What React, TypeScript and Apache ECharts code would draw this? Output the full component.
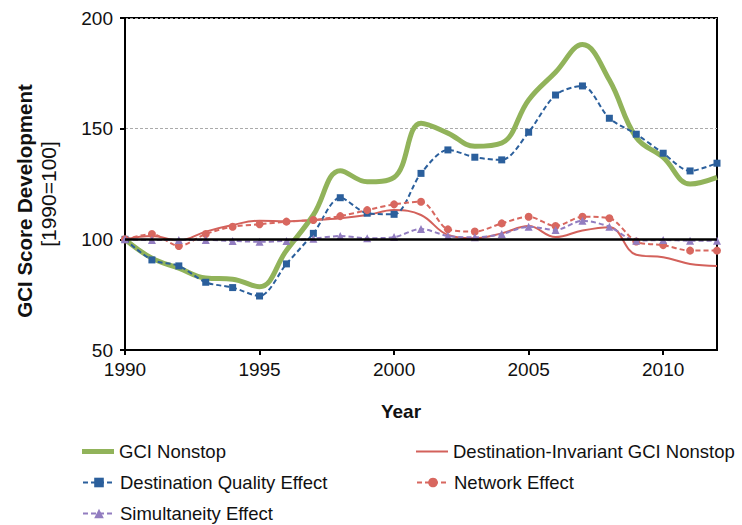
import { useEffect, useRef } from "react";
import * as echarts from "echarts";

// Years on the horizontal axis
const years = [
  1990, 1991, 1992, 1993, 1994, 1995, 1996, 1997, 1998, 1999, 2000, 2001,
  2002, 2003, 2004, 2005, 2006, 2007, 2008, 2009, 2010, 2011, 2012,
];

// Index values, 1990 = 100
const gciNonstop = [
  100, 91.5, 87, 82.5, 82, 78.6, 95, 111, 131, 126, 128, 152.5, 148, 142,
  143.5, 163, 175.5, 188, 172, 146, 137, 125, 128,
];
const destinationInvariant = [
  100, 101.5, 99.5, 103.5, 106.5, 108.4, 108.2, 108.7, 109.5, 111, 113.2, 111,
  102, 100.5, 102.7, 106, 101, 104, 105.5, 93, 91.9, 88.9, 88,
];
const destinationQuality = [
  100, 90.7, 88, 80.6, 78.2, 74.4, 88.9, 102.7, 118.8, 111.8, 111.3, 129.8,
  140.4, 137.1, 135.9, 148.4, 165.2, 169.3, 154.7, 147.5, 138.9, 130.9, 134.4,
];
const networkEffect = [
  100, 102.4, 97, 102.4, 105.7, 106.8, 108, 108.7, 110.5, 113.2, 115.8, 117,
  104.5, 103.5, 107.2, 110.2, 106, 110.2, 109.5, 99, 97.4, 94.9, 94.9,
];
const simultaneityEffect = [
  100, 99.7, 99.7, 99.7, 99.3, 98.9, 99.3, 100.3, 101.5, 100.5, 101, 104.7,
  101.5, 100.9, 102.4, 105.7, 104.2, 108.4, 105.7, 99.4, 99.7, 99.4, 99.4,
];

const xTicks = [1990, 1995, 2000, 2005, 2010];
const baseline = 100;

const pairs = (vals: number[]) => years.map((y, i) => [y, vals[i]]);

const FONT = "Liberation Sans, Arial, Helvetica, sans-serif";

export default function App() {
  const ref = useRef<HTMLDivElement>(null);

  useEffect(() => {
    if (!ref.current) return;
    const chart = echarts.init(ref.current, null, { renderer: "svg" });

    const legendBase = {
      orient: "horizontal" as const,
      itemWidth: 32,
      itemHeight: 12,
      itemGap: 0,
      padding: 0,
      selectedMode: false,
      textStyle: { fontFamily: FONT, fontSize: 18.5, color: "#111" },
    };

    chart.setOption({
      animation: false,
      backgroundColor: "#fff",
      grid: {
        left: 125,
        right: 25,
        top: 18,
        bottom: 175,
        show: true,
        borderColor: "#000",
        borderWidth: 2,
      },
      xAxis: {
        type: "value",
        min: 1990,
        max: 2012,
        interval: 5,
        axisLine: { show: true, lineStyle: { color: "#000", width: 2 } },
        axisTick: {
          show: true,
          length: 5,
          lineStyle: { color: "#000", width: 2 },
          customValues: xTicks,
        },
        axisLabel: {
          customValues: xTicks,
          formatter: (v: number) => String(v),
          fontFamily: FONT,
          fontSize: 19,
          color: "#111",
          margin: 10,
        },
        splitLine: { show: false },
      },
      yAxis: {
        type: "value",
        min: 50,
        max: 200,
        interval: 50,
        axisLine: { show: true, lineStyle: { color: "#000", width: 2 } },
        axisTick: { show: true, length: 5, lineStyle: { color: "#000", width: 2 } },
        axisLabel: {
          fontFamily: FONT,
          fontSize: 19,
          color: "#111",
          margin: 12,
        },
        splitLine: {
          show: true,
          lineStyle: { color: "#aaa", width: 1, type: [3, 2] },
        },
      },
      legend: [
        {
          ...legendBase,
          left: 82,
          top: 442,
          itemHeight: 5,
          data: [{ name: "GCI Nonstop", icon: "rect" }],
        },
        { ...legendBase, left: 82, top: 473, data: ["Destination Quality Effect"] },
        { ...legendBase, left: 82, top: 504, data: ["Simultaneity Effect"] },
        {
          ...legendBase,
          left: 416,
          top: 442,
          itemHeight: 2,
          data: [{ name: "Destination-Invariant GCI Nonstop", icon: "rect" }],
        },
        { ...legendBase, left: 416, top: 473, data: ["Network Effect"] },
      ],
      graphic: [
        {
          type: "text",
          x: 24,
          y: 201,
          rotation: Math.PI / 2,
          style: {
            text: "GCI Score Development",
            fontFamily: FONT,
            fontSize: 20.5,
            fontWeight: "bold",
            fill: "#111",
            align: "center",
            verticalAlign: "middle",
          },
        },
        {
          type: "text",
          x: 48,
          y: 194,
          rotation: Math.PI / 2,
          style: {
            text: "[1990=100]",
            fontFamily: FONT,
            fontSize: 21,
            fill: "#111",
            align: "center",
            verticalAlign: "middle",
          },
        },
        {
          type: "text",
          x: 401,
          y: 411,
          style: {
            text: "Year",
            fontFamily: FONT,
            fontSize: 19,
            fontWeight: "bold",
            fill: "#111",
            align: "center",
            verticalAlign: "middle",
          },
        },
      ],
      series: [
        {
          name: "Destination-Invariant GCI Nonstop",
          type: "line",
          smooth: 0.4,
          showSymbol: false,
          symbol: "none",
          data: pairs(destinationInvariant),
          lineStyle: { color: "#D3615B", width: 2 },
          itemStyle: { color: "#D3615B" },
          z: 2,
        },
        {
          name: "GCI Nonstop",
          type: "line",
          smooth: 0.4,
          showSymbol: false,
          symbol: "none",
          data: pairs(gciNonstop),
          lineStyle: { color: "#91B35A", width: 5 },
          itemStyle: { color: "#91B35A" },
          z: 3,
        },
        {
          name: "Destination Quality Effect",
          type: "line",
          smooth: 0.3,
          symbol: "rect",
          symbolSize: 7,
          data: pairs(destinationQuality),
          lineStyle: { color: "#2B5F9C", width: 2, type: [5, 3] },
          itemStyle: { color: "#2B5F9C" },
          z: 4,
        },
        {
          name: "Network Effect",
          type: "line",
          smooth: 0.3,
          symbol: "circle",
          symbolSize: 8,
          data: pairs(networkEffect),
          lineStyle: { color: "#D8675F", width: 2, type: [5, 3] },
          itemStyle: { color: "#D8675F" },
          z: 4,
        },
        {
          name: "Simultaneity Effect",
          type: "line",
          smooth: 0.3,
          symbol: "triangle",
          symbolSize: 8,
          data: pairs(simultaneityEffect),
          lineStyle: { color: "#927DC0", width: 2, type: [5, 3] },
          itemStyle: { color: "#927DC0" },
          z: 5,
          markLine: {
            silent: true,
            symbol: "none",
            label: { show: false },
            lineStyle: { color: "#000", width: 2.5, type: "solid" },
            data: [{ yAxis: baseline }],
            z: 6,
          },
        },
      ],
    });

    return () => chart.dispose();
  }, []);

  return <div ref={ref} style={{ width: 742, height: 525, position: "absolute", left: 0, top: 0 }} />;
}
